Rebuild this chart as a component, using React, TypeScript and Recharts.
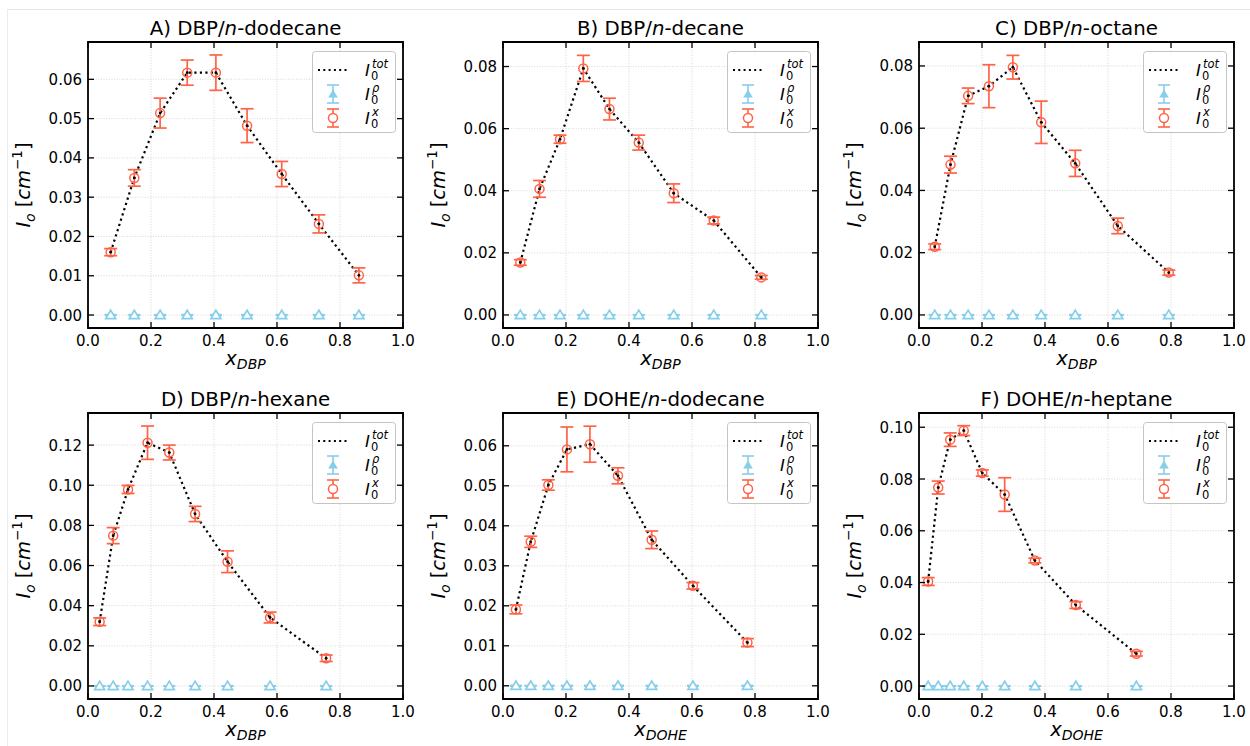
import React from 'react'
import {
  CartesianGrid,
  ComposedChart,
  ErrorBar,
  Line,
  ReferenceArea,
  Scatter,
  XAxis,
  YAxis,
} from 'recharts'

const FONT = '"DejaVu Sans", sans-serif'
const RED = '#ff6347'
const BLUE = '#87ceeb'

// plot box size (px) shared by the six panels
const PW = 315
const PH = 286

const X_TICKS = [0, 0.2, 0.4, 0.6, 0.8, 1.0]

// A) DBP/n-dodecane
const xA = [0.072, 0.147, 0.229, 0.315, 0.406, 0.505, 0.615, 0.733, 0.86]
const totA = [0.016, 0.0349, 0.0514, 0.0617, 0.0617, 0.0482, 0.0359, 0.0232, 0.0101]
const ixA = [0.016, 0.0349, 0.0514, 0.0617, 0.0617, 0.0482, 0.0359, 0.0232, 0.0101]
const errA = [0.0009, 0.0021, 0.0038, 0.0032, 0.0045, 0.0043, 0.0032, 0.0023, 0.0019]
const ticksA = [0, 0.01, 0.02, 0.03, 0.04, 0.05, 0.06]

// B) DBP/n-decane
const xB = [0.055, 0.116, 0.181, 0.255, 0.338, 0.431, 0.542, 0.669, 0.82]
const totB = [0.0169, 0.0406, 0.0566, 0.0794, 0.0663, 0.0555, 0.0392, 0.0304, 0.0121]
const ixB = [0.0169, 0.0406, 0.0566, 0.0794, 0.0663, 0.0555, 0.0392, 0.0304, 0.0121]
const errB = [0.0009, 0.0027, 0.0013, 0.0042, 0.0035, 0.0024, 0.003, 0.0011, 0.0006]
const ticksB = [0, 0.02, 0.04, 0.06, 0.08]

// C) DBP/n-octane
const xC = [0.05, 0.1, 0.156, 0.222, 0.298, 0.388, 0.496, 0.631, 0.793]
const totC = [0.0219, 0.0483, 0.0704, 0.0735, 0.0796, 0.0619, 0.0487, 0.0286, 0.0136]
const ixC = [0.0219, 0.0483, 0.0704, 0.0735, 0.0796, 0.0619, 0.0487, 0.0286, 0.0136]
const errC = [0.0009, 0.0027, 0.0025, 0.0069, 0.0038, 0.0068, 0.0042, 0.0025, 0.0008]
const ticksC = [0, 0.02, 0.04, 0.06, 0.08]

// D) DBP/n-hexane
const xD = [0.037, 0.08, 0.127, 0.189, 0.258, 0.34, 0.443, 0.578, 0.756]
const totD = [0.032, 0.0749, 0.0979, 0.1212, 0.1163, 0.0857, 0.0619, 0.0341, 0.0138]
const ixD = [0.032, 0.0749, 0.0979, 0.1212, 0.1163, 0.0857, 0.0619, 0.0341, 0.0138]
const errD = [0.0019, 0.004, 0.002, 0.0083, 0.0037, 0.0038, 0.0054, 0.0027, 0.0016]
const ticksD = [0, 0.02, 0.04, 0.06, 0.08, 0.1, 0.12]

// E) DOHE/n-dodecane
const xE = [0.041, 0.088, 0.144, 0.203, 0.276, 0.365, 0.472, 0.603, 0.776]
const totE = [0.0191, 0.036, 0.0502, 0.0591, 0.0604, 0.0525, 0.0365, 0.025, 0.0108]
const ixE = [0.0191, 0.036, 0.0502, 0.0591, 0.0604, 0.0525, 0.0365, 0.025, 0.0108]
const errE = [0.0011, 0.0014, 0.0013, 0.0056, 0.0045, 0.002, 0.0022, 0.0008, 0.001]
const ticksE = [0, 0.01, 0.02, 0.03, 0.04, 0.05, 0.06]

// F) DOHE/n-heptane
const xF = [0.029, 0.061, 0.099, 0.142, 0.201, 0.272, 0.368, 0.498, 0.69]
const totF = [0.0404, 0.0767, 0.0952, 0.0987, 0.0823, 0.074, 0.0485, 0.0313, 0.0125]
const ixF = [0.0404, 0.0767, 0.0952, 0.0987, 0.0823, 0.074, 0.0485, 0.0313, 0.0125]
const errF = [0.0015, 0.0025, 0.0026, 0.0019, 0.0012, 0.0065, 0.0009, 0.0013, 0.0009]
const ticksF = [0, 0.02, 0.04, 0.06, 0.08, 0.1]

// I0^rho is ~0 everywhere
const rho = [0, 0, 0, 0, 0, 0, 0, 0, 0]
const rhoErr = [0.0001, 0.0001, 0.0001, 0.0001, 0.0001, 0.0001, 0.0001, 0.0001, 0.0001]

const panels = [
  { tag: 'A', comp: 'DBP', solvent: 'dodecane', x: xA, tot: totA, ix: ixA, err: errA, ticks: ticksA, domain: [-0.0033, 0.0695], left: 88, top: 42 },
  { tag: 'B', comp: 'DBP', solvent: 'decane', x: xB, tot: totB, ix: ixB, err: errB, ticks: ticksB, domain: [-0.0042, 0.0879], left: 503, top: 42 },
  { tag: 'C', comp: 'DBP', solvent: 'octane', x: xC, tot: totC, ix: ixC, err: errC, ticks: ticksC, domain: [-0.0042, 0.0877], left: 919, top: 42 },
  { tag: 'D', comp: 'DBP', solvent: 'hexane', x: xD, tot: totD, ix: ixD, err: errD, ticks: ticksD, domain: [-0.0065, 0.136], left: 88, top: 413 },
  { tag: 'E', comp: 'DOHE', solvent: 'dodecane', x: xE, tot: totE, ix: ixE, err: errE, ticks: ticksE, domain: [-0.0033, 0.0682], left: 503, top: 413 },
  { tag: 'F', comp: 'DOHE', solvent: 'heptane', x: xF, tot: totF, ix: ixF, err: errF, ticks: ticksF, domain: [-0.005, 0.1055], left: 919, top: 413 },
]

const circleShape = (p: any) => (
  <circle cx={p.cx} cy={p.cy} r={4.5} fill='none' stroke={RED} strokeWidth={1.5} />
)

const triShape = (p: any) => (
  <polygon
    points={`${p.cx},${p.cy - 4.8} ${p.cx - 5},${p.cy + 3.6} ${p.cx + 5},${p.cy + 3.6}`}
    fill='#fff'
    stroke={BLUE}
    strokeWidth={1.7}
  />
)

// ticks point inwards, mirrored on top / right like matplotlib
const XTick = (p: any) => (
  <g>
    <line x1={p.x} x2={p.x} y1={p.y} y2={p.y - 6} stroke='#000' strokeWidth={1.3} />
    <line x1={p.x} x2={p.x} y1={p.y - PH} y2={p.y - PH + 6} stroke='#000' strokeWidth={1.3} />
    <text x={p.x} y={p.y + 18} textAnchor='middle' fontSize={15} fontFamily={FONT} fill='#000'>
      {Number(p.payload.value).toFixed(1)}
    </text>
  </g>
)

const YTick = (p: any) => (
  <g>
    <line x1={p.x} x2={p.x + 6} y1={p.y} y2={p.y} stroke='#000' strokeWidth={1.3} />
    <line x1={p.x + PW} x2={p.x + PW - 6} y1={p.y} y2={p.y} stroke='#000' strokeWidth={1.3} />
    <text x={p.x - 6} y={p.y + 5.5} textAnchor='end' fontSize={15} fontFamily={FONT} fill='#000'>
      {Number(p.payload.value).toFixed(2)}
    </text>
  </g>
)

function Legend() {
  return (
    <svg width={84} height={82} style={{ position: 'absolute', left: 88 + PW - 7 - 84, top: 42 + 9 }}>
      <rect x={0.5} y={0.5} width={83} height={81} rx={3} fill='#fff' fillOpacity={0.8} stroke='#c4c4c4' />
      <line x1={6} x2={37} y1={19} y2={19} stroke='#000' strokeWidth={2} strokeDasharray='2 3.3' />
      <line x1={21} x2={21} y1={34} y2={52} stroke={BLUE} strokeWidth={1.6} />
      <line x1={15} x2={27} y1={34} y2={34} stroke={BLUE} strokeWidth={1.6} />
      <line x1={15} x2={27} y1={52} y2={52} stroke={BLUE} strokeWidth={1.6} />
      <polygon points='21,38.5 16.2,46.5 25.8,46.5' fill={BLUE} />
      <line x1={21} x2={21} y1={58} y2={76} stroke={RED} strokeWidth={1.6} />
      <line x1={15} x2={27} y1={58} y2={58} stroke={RED} strokeWidth={1.6} />
      <line x1={15} x2={27} y1={76} y2={76} stroke={RED} strokeWidth={1.6} />
      <circle cx={21} cy={67} r={4.5} fill='#fff' stroke={RED} strokeWidth={1.5} />
      {[
        { sup: 'tot', y: 25 },
        { sup: 'ρ', y: 49 },
        { sup: 'x', y: 73 },
      ].map((r) => (
        <g key={r.sup} fontFamily={FONT} fill='#000'>
          <text x={53} y={r.y} fontSize={16.5} fontStyle='italic'>I</text>
          <text x={59} y={r.y + 4} fontSize={11.5}>0</text>
          <text x={60} y={r.y - 8} fontSize={11.5} fontStyle='italic'>{r.sup}</text>
        </g>
      ))}
    </svg>
  )
}

function Labels({ tag, comp, solvent }: { tag: string; comp: string; solvent: string }) {
  const cx = 88 + PW / 2
  const cy = 42 + PH / 2
  return (
    <svg
      width={420}
      height={380}
      style={{ position: 'absolute', left: 0, top: 0, pointerEvents: 'none', overflow: 'visible' }}
    >
      <text x={cx} y={35} textAnchor='middle' fontSize={19.8} fontFamily={FONT} fill='#000'>
        {`${tag}) ${comp}/`}
        <tspan fontStyle='italic'>n</tspan>
        {`-${solvent}`}
      </text>
      <text x={cx} y={42 + PH + 37} textAnchor='middle' fontSize={19.5} fontFamily={FONT} fontStyle='italic' fill='#000'>
        x
        <tspan fontSize={14} dy={4}>{comp}</tspan>
      </text>
      <text
        x={30}
        y={cy}
        transform={`rotate(-90, 30, ${cy})`}
        textAnchor='middle'
        fontSize={19.5}
        fontFamily={FONT}
        fill='#000'
      >
        <tspan fontStyle='italic'>I</tspan>
        <tspan fontStyle='italic' fontSize={13.5} dy={5}>o</tspan>
        <tspan dy={-5}> [</tspan>
        <tspan fontStyle='italic'>cm</tspan>
        <tspan fontSize={13.5} dy={-8}>−1</tspan>
        <tspan dy={8}>]</tspan>
      </text>
    </svg>
  )
}

function Panel({ cfg }: { cfg: (typeof panels)[number] }) {
  const data = cfg.x.map((v, i) => ({
    x: v,
    tot: cfg.tot[i],
    ix: cfg.ix[i],
    err: cfg.err[i],
    rho: rho[i],
    rhoErr: rhoErr[i],
  }))
  return (
    <div style={{ position: 'absolute', left: cfg.left - 88, top: cfg.top - 42, width: 420, height: 370 }}>
      <ComposedChart width={420} height={370} data={data} margin={{ top: 42, right: 17, bottom: 0, left: 0 }}>
        <CartesianGrid stroke='#cfcfcf' strokeDasharray='1 1.6' strokeWidth={0.8} />
        <XAxis
          dataKey='x'
          type='number'
          domain={[0, 1]}
          ticks={X_TICKS}
          interval={0}
          allowDataOverflow
          height={42}
          axisLine={false}
          tickLine={false}
          tickSize={0}
          tickMargin={0}
          tick={XTick}
        />
        <YAxis
          type='number'
          domain={cfg.domain}
          ticks={cfg.ticks}
          interval={0}
          allowDataOverflow
          width={88}
          axisLine={false}
          tickLine={false}
          tickSize={0}
          tickMargin={0}
          tick={YTick}
        />
        <Scatter dataKey='rho' shape={triShape} isAnimationActive={false}>
          <ErrorBar dataKey='rhoErr' direction='y' width={6} stroke={BLUE} strokeWidth={1.6} />
        </Scatter>
        <Line
          dataKey='tot'
          type='linear'
          stroke='#000'
          strokeWidth={2.2}
          strokeDasharray='2.2 3.3'
          dot={{ r: 1.4, fill: '#000', stroke: 'none' }}
          activeDot={false}
          isAnimationActive={false}
        />
        <Scatter dataKey='ix' shape={circleShape} isAnimationActive={false}>
          <ErrorBar dataKey='err' direction='y' width={6.5} stroke={RED} strokeWidth={1.7} />
        </Scatter>
        <ReferenceArea
          x1={0}
          x2={1}
          y1={cfg.domain[0]}
          y2={cfg.domain[1]}
          fill='none'
          stroke='#000'
          strokeWidth={1.8}
          ifOverflow='visible'
        />
      </ComposedChart>
      <Labels tag={cfg.tag} comp={cfg.comp} solvent={cfg.solvent} />
      <Legend />
    </div>
  )
}

export default function App() {
  return (
    <div
      style={{
        position: 'absolute',
        left: 0,
        top: 0,
        width: 1250,
        height: 746,
        background: '#fff',
        fontFamily: FONT,
        overflow: 'hidden',
      }}
    >
      <div
        style={{
          position: 'absolute',
          left: 7,
          top: 9,
          width: 1250,
          height: 746,
          borderTop: '1px solid #e4e4e4',
          borderLeft: '1px solid #ececec',
        }}
      />
      {panels.map((p) => (
        <Panel key={p.tag} cfg={p} />
      ))}
    </div>
  )
}
